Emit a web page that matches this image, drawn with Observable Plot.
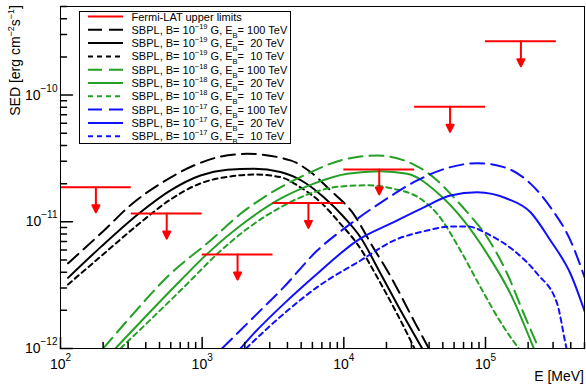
<!DOCTYPE html>
<html><head><meta charset="utf-8">
<script src="https://cdn.jsdelivr.net/npm/d3@7"></script>
<script src="https://cdn.jsdelivr.net/npm/@observablehq/plot@0.6"></script>
<style>body{margin:0;background:#fff}#chart svg{display:block}</style>
</head><body><div id="chart"></div>
<script>
// ---- Data ----
// Fermi-LAT upper limits (energy bin edges in MeV, limit in erg cm^-2 s^-1)
const ulLow  = [100, 316, 1000, 3162, 10000, 31623, 100000];
const ulHigh = [316, 1000, 3162, 10000, 31623, 100000, 316228];
const ulValue = [1.87e-11, 1.16e-11, 5.52e-12, 1.41e-11, 2.59e-11, 8.09e-11, 2.66e-10];

// SBPL model curves: [E (MeV), SED (erg cm^-2 s^-1)]
const b19_e100 = [[113,4.7e-12],[202,8.5e-12],[321,1.39e-11],[508,2.0e-11],[873,2.78e-11],[1350,3.27e-11],[2080,3.44e-11],[4200,3.05e-11],[5820,2.47e-11],[8050,1.77e-11],[11460,1.19e-11],[16280,6.15e-12],[20240,4.13e-12],[32060,1.57e-12],[39810,1.0e-12]];
const b19_e20 = [[113,3.61e-12],[192,6.31e-12],[367,1.19e-11],[598,1.77e-11],[973,2.32e-11],[1500,2.57e-11],[2315,2.62e-11],[3570,2.47e-11],[5220,2.06e-11],[7220,1.56e-11],[10000,1.09e-11],[13100,7.55e-12],[18150,3.91e-12],[25120,2.0e-12],[35750,1.0e-12]];
const b19_e10 = [[113,3.2e-12],[192,5.32e-12],[367,9.86e-12],[598,1.5e-11],[973,2.01e-11],[1585,2.28e-11],[2380,2.36e-11],[3570,2.25e-11],[4940,1.87e-11],[6840,1.43e-11],[9470,9.64e-12],[12430,6.7e-12],[18150,3.28e-12],[30390,1.09e-12],[31550,1.0e-12]];
const b18_e100 = [[200,1.0e-12],[296,1.66e-12],[598,3.89e-12],[1145,7.11e-12],[1865,1.156e-11],[2724,1.56e-11],[5514,2.39e-11],[9474,3.05e-11],[17200,3.33e-11],[31190,2.83e-11],[45620,2.12e-11],[56650,1.66e-11],[74300,1.19e-11],[102800,7.55e-12],[142400,3.89e-12],[186500,1.88e-12],[237900,1.0e-12]];
const b18_e20 = [[244,1.0e-12],[703,3.44e-12],[1085,5.58e-12],[2080,1.023e-11],[3573,1.52e-11],[6138,2.0e-11],[10560,2.39e-11],[18150,2.51e-11],[28020,2.39e-11],[48140,1.61e-11],[70310,1.02e-11],[102800,5.58e-12],[150200,2.7e-12],[219400,1.0e-12]];
const b18_e10 = [[265,1.0e-12],[828,3.44e-12],[1208,5.26e-12],[2080,8.81e-12],[3573,1.30e-11],[6138,1.71e-11],[9474,1.90e-11],[14620,1.94e-11],[22530,1.82e-11],[34770,1.52e-11],[45620,1.156e-11],[66630,5.93e-12],[92190,3.05e-12],[134700,1.47e-12],[171900,1.0e-12]];
const b17_e100 = [[1380,1.0e-12],[2582,2.0e-12],[3771,3.05e-12],[6488,5.93e-12],[11150,9.64e-12],[19160,1.47e-11],[32960,2.12e-11],[56650,2.70e-11],[87420,2.90e-11],[134700,2.70e-11],[207800,2.0e-11],[287700,1.30e-11],[398200,7.11e-12],[500000,3.66e-12]];
const b17_e20 = [[1865,1.0e-12],[2193,1.23e-12],[3771,2.25e-12],[6488,3.89e-12],[12430,7.11e-12],[22530,9.93e-12],[36690,1.30e-11],[56650,1.61e-11],[87420,1.71e-11],[142400,1.52e-11],[207800,1.19e-11],[287700,7.11e-12],[398200,3.89e-12],[508200,1.88e-12]];
const b17_e10 = [[2039,1.0e-12],[3771,1.88e-12],[6488,3.05e-12],[13120,4.95e-12],[22530,7.11e-12],[38770,8.53e-12],[56650,9.18e-12],[74300,9.18e-12],[108500,7.80e-12],[158500,5.93e-12],[231800,3.89e-12],[320900,2.25e-12],[367300,1.09e-12],[373300,1.0e-12]];

const xMajor = [1e2, 1e3, 1e4, 1e5];
const yMajor = [1e-12, 1e-11, 1e-10];

const legendTitle = "Fermi-LAT upper limits";
const legendB  = ["19", "19", "19", "18", "18", "18", "17", "17", "17"];
const legendEb = ["100", " 20", " 10", "100", " 20", " 10", "100", " 20", " 10"];

// ---- Styles ----
const GREEN = "#25a025", BLUE = "#1010ff", RED = "#ff0000";
const LONG = "14,7", SHORT = "5,4";
const curves = [
  {data: b19_e100, color: "#000", dash: LONG},
  {data: b19_e20,  color: "#000", dash: null},
  {data: b19_e10,  color: "#000", dash: SHORT},
  {data: b18_e100, color: GREEN, dash: LONG},
  {data: b18_e20,  color: GREEN, dash: null},
  {data: b18_e10,  color: GREEN, dash: SHORT},
  {data: b17_e100, color: BLUE, dash: LONG},
  {data: b17_e20,  color: BLUE, dash: null},
  {data: b17_e10,  color: BLUE, dash: SHORT}
];

const limits = ulLow.map((lo, i) => ({lo, hi: ulHigh[i], c: Math.sqrt(lo * ulHigh[i]), v: ulValue[i]}));

const xMinor = [];
for (let d = 100; d < 5e5; d *= 10) for (let k = 2; k <= 9; k++) if (d * k <= 5e5) xMinor.push(d * k);
const yMinor = [];
for (let d = 1e-12; d < 5e-10; d *= 10) for (let k = 2; k <= 9; k++) if (d * k <= 5.01e-10) yMinor.push(d * k);

const tickShape = {draw(ctx, l) { ctx.moveTo(0, 0); ctx.lineTo(0, -l); }};
const arrowShape = {draw(ctx, l) {
  ctx.moveTo(0, 0); ctx.lineTo(0, -l + 6);
  ctx.moveTo(-3.5, -l + 7); ctx.lineTo(3.5, -l + 7); ctx.lineTo(0, -l); ctx.closePath();
}};

const pow = d => "10^" + String(Math.round(Math.log10(d))).replace("-", "\u2212");

const chart = Plot.plot({
  width: 586, height: 385,
  marginLeft: 60, marginRight: 2, marginTop: 6, marginBottom: 37,
  style: {fontFamily: "'Liberation Sans', Arial, Helvetica, sans-serif", background: "white", color: "black"},
  x: {type: "log", domain: [100, 5e5]},
  y: {type: "log", domain: [1e-12, 5e-10]},
  marks: [
    ...curves.map(s => Plot.line(s.data, {x: d => d[0], y: d => d[1], stroke: s.color, strokeWidth: 2,
      strokeDasharray: s.dash, curve: "monotone-x", clip: true})),
    Plot.ruleY(limits, {x1: "lo", x2: "hi", y: "v", stroke: RED, strokeWidth: 2}),
    Plot.vector(limits, {x: "c", y: "v", rotate: 180, length: 25, anchor: "start", shape: arrowShape,
      stroke: RED, fill: RED, strokeWidth: 2}),
    Plot.frame({stroke: "black"}),
    Plot.vector(xMajor, {x: d => d, frameAnchor: "bottom", length: 11, anchor: "start", shape: tickShape, stroke: "black"}),
    Plot.vector(xMinor, {x: d => d, frameAnchor: "bottom", length: 6, anchor: "start", shape: tickShape, stroke: "black"}),
    Plot.vector(yMajor, {y: d => d, frameAnchor: "left", rotate: 90, length: 12, anchor: "start", shape: tickShape, stroke: "black"}),
    Plot.vector(yMinor, {y: d => d, frameAnchor: "left", rotate: 90, length: 6, anchor: "start", shape: tickShape, stroke: "black"}),
    Plot.axisX({ticks: xMajor, tickSize: 0, tickPadding: 11, tickFormat: pow, fontSize: 14, label: null}),
    Plot.axisY({ticks: yMajor, tickSize: 0, tickPadding: 3, tickFormat: pow, fontSize: 14, label: null})
  ]
});
document.getElementById("chart").appendChild(chart);

// superscript exponents in tick labels
const svg = d3.select(chart);
svg.selectAll('g[aria-label$="tick label"] text').each(function() {
  const m = this.textContent.match(/^10\^(.*)$/);
  if (!m) return;
  const t = d3.select(this); t.text(null);
  t.append("tspan").text("10");
  t.append("tspan").attr("dy", -8).attr("font-size", 10).text(m[1]);
});

const FONT = "'Liberation Sans', Arial, Helvetica, sans-serif";
// axis titles
const yt = svg.append("text").attr("transform", "translate(20,5) rotate(-90)")
  .attr("text-anchor", "end").attr("font-size", 14).attr("font-family", FONT).attr("fill", "black");
yt.append("tspan").text("SED [erg cm");
yt.append("tspan").attr("dy", -6).attr("font-size", 9).text("\u22122");
yt.append("tspan").attr("dy", 6).text("s");
yt.append("tspan").attr("dy", -6).attr("font-size", 9).text("\u22121");
yt.append("tspan").attr("dy", 6).text("]");
svg.append("text").attr("x", 584).attr("y", 381).attr("text-anchor", "end").attr("font-size", 14)
  .attr("font-family", FONT).attr("fill", "black").text("E [MeV]");

// legend
const lg = svg.append("g").attr("font-family", FONT).attr("font-size", 11).attr("fill", "black")
  .attr("text-anchor", "start");
lg.append("rect").attr("x", 79.5).attr("y", 11.5).attr("width", 211).attr("height", 132)
  .attr("fill", "white").attr("stroke", "black");
const rowY = i => 16.5 + 13.3 * i;
lg.append("line").attr("x1", 88).attr("x2", 123).attr("y1", rowY(0)).attr("y2", rowY(0)).attr("stroke", RED).attr("stroke-width", 2);
lg.append("text").attr("x", 131.5).attr("y", rowY(0) + 4).text(legendTitle);
curves.forEach((s, i) => {
  const y = rowY(i + 1);
  lg.append("line").attr("x1", 88).attr("x2", 123).attr("y1", y).attr("y2", y)
    .attr("stroke", s.color).attr("stroke-width", 2).attr("stroke-dasharray", s.dash);
  const t = lg.append("text").attr("x", 131.5).attr("y", y + 4).style("white-space", "pre");
  t.append("tspan").text("SBPL, B= 10");
  t.append("tspan").attr("dy", -5).attr("font-size", 7.5).text("\u2212" + legendB[i]);
  t.append("tspan").attr("dy", 5).text(" G, E");
  t.append("tspan").attr("dy", 4).attr("font-size", 7.5).text("B");
  t.append("tspan").attr("dy", -4).text("= " + legendEb[i] + " TeV");
});
</script>
</body></html>
